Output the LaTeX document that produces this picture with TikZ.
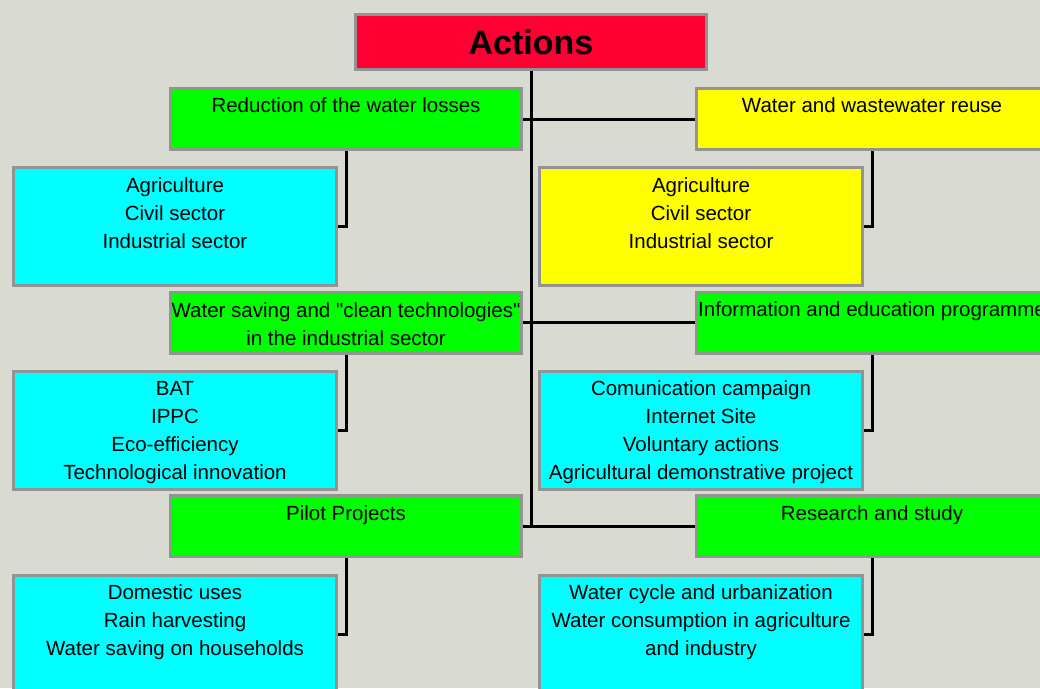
\documentclass[tikz,border=0pt]{standalone}
\usepackage{fontspec}
\setmainfont{Liberation Sans}[Ligatures=TeXOff]
\usepackage{tikz}
\definecolor{panelGray}{HTML}{D9DBD2}
\definecolor{frameGray}{HTML}{939393}
\definecolor{actRed}{HTML}{FF0033}
\definecolor{actGreen}{HTML}{00FF00}
\definecolor{actYellow}{HTML}{FFFF00}
\definecolor{actCyan}{HTML}{00FFFF}
\tikzset{
  box/.style={draw=frameGray, line width=3pt, inner sep=0pt},
  head/.style={box, fill=actRed, minimum width=351pt, minimum height=55pt},
  theme/.style={box, fill=actGreen, minimum width=351pt, minimum height=61pt},
  sub/.style={box, fill=actCyan, minimum width=323pt, minimum height=118pt},
  link/.style={line width=3pt, black},
  txt/.style={anchor=base, align=center, inner sep=0pt, font=\fontsize{20.5}{28}\selectfont},
}

\begin{document}
\begin{tikzpicture}[x=1pt, y=-1pt]
  \path[use as bounding box, fill=panelGray] (0,0) rectangle (1040,688);
  \clip (0,0) rectangle (1040,688);
  % title
  \node[head, font=\fontsize{34}{40}\selectfont\bfseries] (act) at (531,42) {Actions};
  % row 1
  \node[theme] (loss) at (346,119) {};
  \node[theme, fill=actYellow] (reuse) at (872,119) {};
  \node[sub] (lossSub) at (175,226.5) {};
  \node[sub, fill=actYellow] (reuseSub) at (701,226.5) {};
  % row 2
  \node[theme] (clean) at (346,322.5) {};
  \node[theme] (info) at (872,322.5) {};
  \node[sub] (cleanSub) at (175,430) {};
  \node[sub] (infoSub) at (701,430) {};
  % row 3
  \node[theme] (pilot) at (346,526) {};
  \node[theme] (study) at (872,526) {};
  \node[sub] (pilotSub) at (175,634.5) {};
  \node[sub] (studySub) at (701,634.5) {};

  % texts (base = last line)
  \node[txt] (lossT) at (346,112) {Reduction of the water losses};
  \node[txt] (reuseT) at (872,112) {Water and wastewater reuse};
  \node[txt] (lossSubT) at (175,248) {Agriculture\\Civil sector\\Industrial sector};
  \node[txt] (reuseSubT) at (701,248) {Agriculture\\Civil sector\\Industrial sector};
  \node[txt] (cleanT) at (346,345) {Water saving and "clean technologies"\\in the industrial sector};
  \node[txt] (infoT) at (872,316) {Information and education programme};
  \node[txt] (cleanSubT) at (175,479) {BAT\\IPPC\\Eco-efficiency\\Technological innovation};
  \node[txt] (infoSubT) at (701,479) {Comunication campaign\\Internet Site\\Voluntary actions\\Agricultural demonstrative project};
  \node[txt] (pilotT) at (346,520) {Pilot Projects};
  \node[txt] (studyT) at (872,520) {Research and study};
  \node[txt] (pilotSubT) at (175,655) {Domestic uses\\Rain harvesting\\Water saving on households};
  \node[txt] (studySubT) at (701,655) {Water cycle and urbanization\\Water consumption in agriculture\\and industry};

  % links
  \draw[link] (act.south) -- (act.south |- pilot.east);
  \draw[link] (loss.east) -- (reuse.west);
  \draw[link] (clean.east) -- (info.west);
  \draw[link] (pilot.east) -- (study.west);
  \draw[link] (loss.south) |- (lossSub.east);
  \draw[link] (reuse.south) |- (reuseSub.east);
  \draw[link] (clean.south) |- (cleanSub.east);
  \draw[link] (info.south) |- (infoSub.east);
  \draw[link] (pilot.south) |- (pilotSub.east);
  \draw[link] (study.south) |- (studySub.east);
\end{tikzpicture}
\end{document}
